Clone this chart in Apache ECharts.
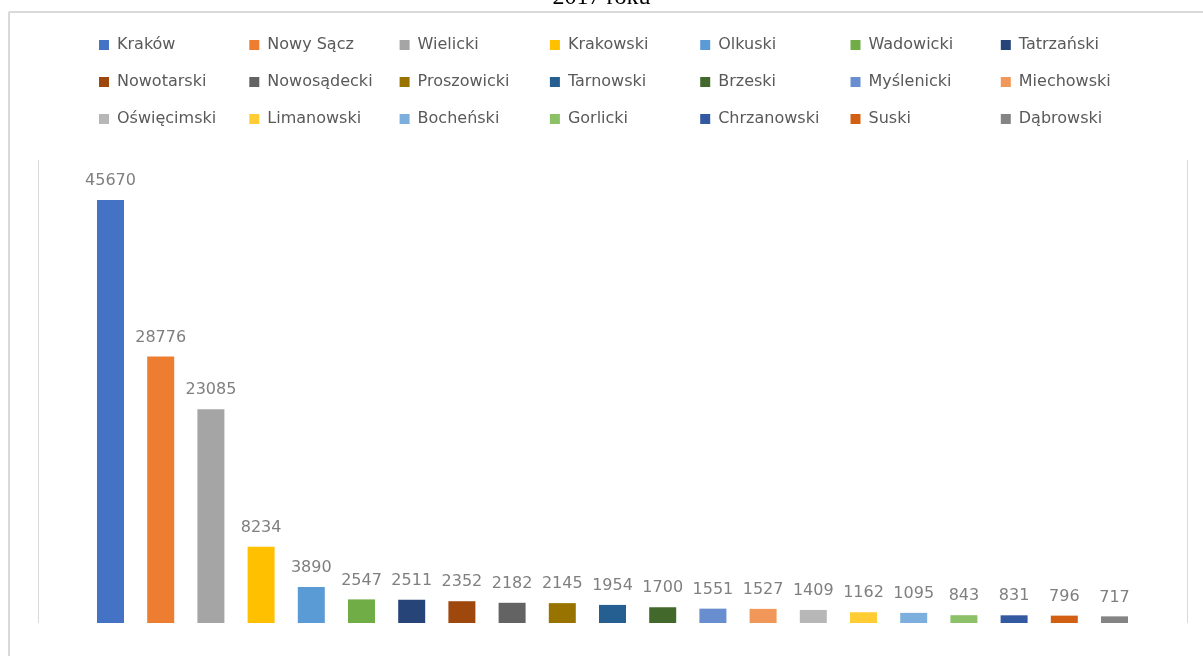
<!DOCTYPE html>
<html>
<head>
<meta charset="utf-8">
<script src="https://cdn.jsdelivr.net/npm/echarts@6/dist/echarts.min.js"></script>
<style>
  html, body { margin: 0; padding: 0; background: #fff; }
  #chart01 { width: 1203px; height: 656px; }
</style>
</head>
<body>
<div id="chart01"></div>
<script>
var names = ['Kraków', 'Nowy Sącz', 'Wielicki', 'Krakowski', 'Olkuski', 'Wadowicki', 'Tatrzański',
             'Nowotarski', 'Nowosądecki', 'Proszowicki', 'Tarnowski', 'Brzeski', 'Myślenicki', 'Miechowski',
             'Oświęcimski', 'Limanowski', 'Bocheński', 'Gorlicki', 'Chrzanowski', 'Suski', 'Dąbrowski'];
var values = [45670, 28776, 23085, 8234, 3890, 2547, 2511, 2352, 2182, 2145, 1954, 1700, 1551, 1527,
              1409, 1162, 1095, 843, 831, 796, 717];
var colors = ['#4472C4', '#ED7D31', '#A5A5A5', '#FFC000', '#5B9BD5', '#70AD47', '#264478',
              '#9E480E', '#636363', '#997300', '#255E91', '#43682B', '#698ED0', '#F1975A',
              '#B7B7B7', '#FFCD33', '#7CAFDD', '#8CC168', '#335AA1', '#D26012', '#848484'];

var myChart = echarts.init(document.getElementById('chart01'));

// one series per powiat, stacked so every bar gets its own slot
var series = [];
for (var i = 0; i < names.length; i++) {
    var d = [];
    for (var j = 0; j < names.length; j++) d.push(j === i ? values[i] : null);
    series.push({
        name: names[i],
        type: 'bar',
        stack: 'all',
        barWidth: 27,
        itemStyle: { color: colors[i] },
        label: {
            show: true,
            position: 'top',
            distance: 11,
            color: '#7f7f7f',
            fontFamily: 'DejaVu Sans',
            fontSize: 16
        },
        data: d
    });
}

// legend laid out as 7 columns of 3
var legends = [];
for (var c = 0; c < 7; c++) {
    legends.push({
        orient: 'vertical',
        left: 94 + 150.3 * c,
        top: 32,
        itemWidth: 10,
        itemHeight: 10,
        itemGap: 21,
        icon: 'rect',
        selectedMode: false,
        textStyle: {
            color: '#595959',
            fontFamily: 'DejaVu Sans',
            fontSize: 16,
            lineHeight: 16,
            padding: [0, 0, 0, 3]
        },
        data: [names[c], names[c + 7], names[c + 14]]
    });
}

option = {
    animation: false,
    title: {
        text: '2017 roku',
        left: 'center',
        top: -19,
        textStyle: {
            fontFamily: 'Liberation Serif',
            fontWeight: 'normal',
            fontSize: 24,
            color: '#000'
        }
    },
    legend: legends,
    grid: {
        left: 85.4,
        right: 63.4,
        top: 160,
        bottom: 33
    },
    xAxis: {
        type: 'category',
        data: names,
        show: false
    },
    yAxis: {
        type: 'value',
        min: 0,
        max: 50000,
        show: false
    },
    graphic: [
        { type: 'line', shape: { x1: 9, y1: 12, x2: 1203, y2: 12 }, style: { stroke: '#d9d9d9', lineWidth: 2 } },
        { type: 'line', shape: { x1: 9, y1: 12, x2: 9, y2: 656 }, style: { stroke: '#d9d9d9', lineWidth: 2 } },
        { type: 'line', shape: { x1: 38.5, y1: 160, x2: 38.5, y2: 623 }, style: { stroke: '#d9d9d9', lineWidth: 1 } },
        { type: 'line', shape: { x1: 1187.5, y1: 160, x2: 1187.5, y2: 623 }, style: { stroke: '#d9d9d9', lineWidth: 1 } }
    ],
    series: series
};

if (option && typeof option === "object") {
    myChart.setOption(option, true);
}
</script>
</body>
</html>
